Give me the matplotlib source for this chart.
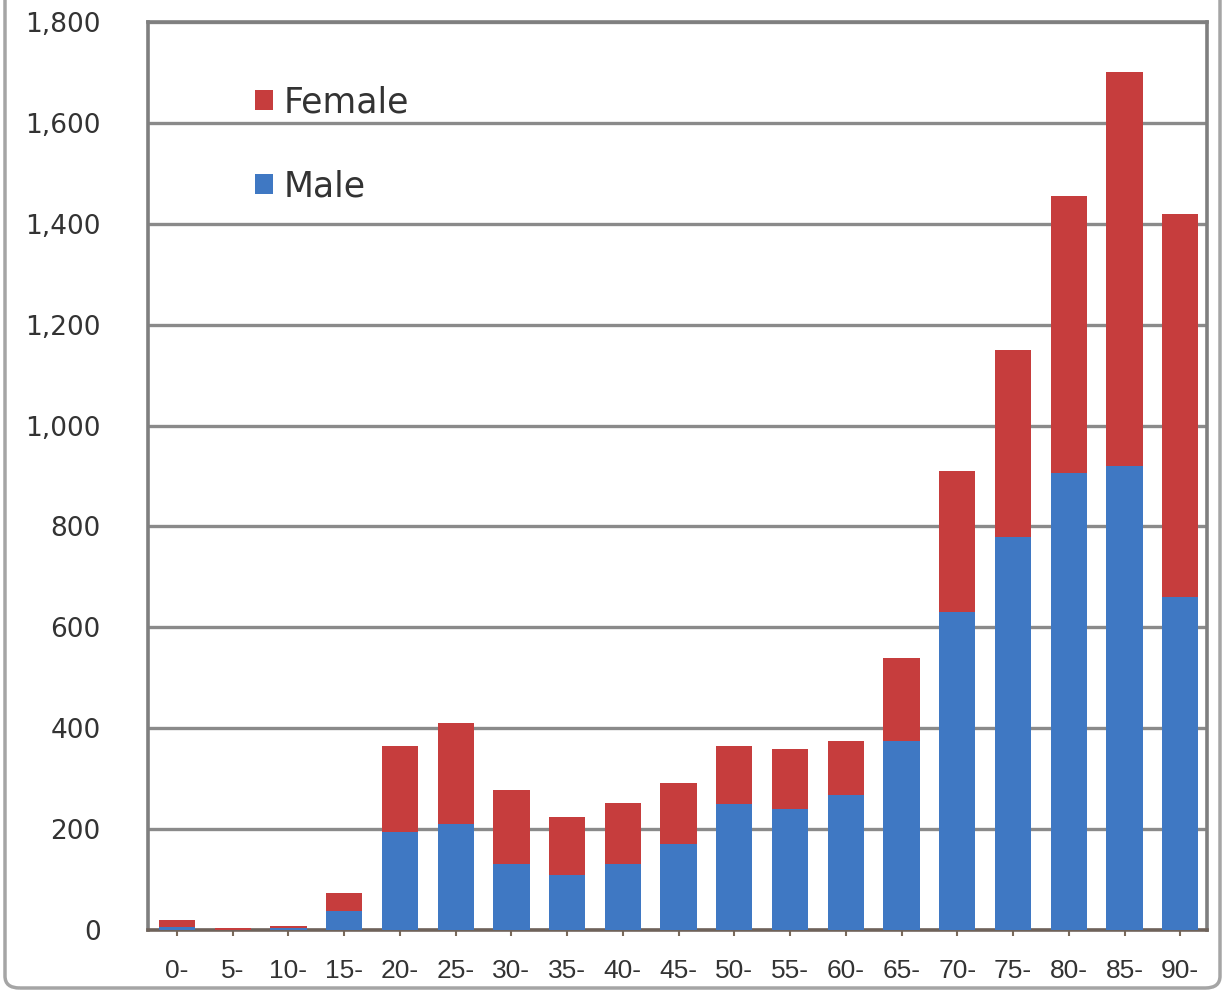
import numpy as np
import matplotlib
matplotlib.use("Agg")
import matplotlib.pyplot as plt
from matplotlib.patches import Patch, FancyBboxPatch
from matplotlib.ticker import FuncFormatter

# age groups (5-year bands)
age_groups = ["0-", "5-", "10-", "15-", "20-", "25-", "30-", "35-", "40-", "45-",
              "50-", "55-", "60-", "65-", "70-", "75-", "80-", "85-", "90-"]
male = [6, 1, 3, 38, 195, 210, 130, 110, 130, 170,
        250, 240, 268, 375, 630, 780, 905, 920, 660]
female = [14, 2, 4, 35, 170, 200, 148, 115, 122, 122,
          115, 118, 107, 165, 280, 370, 550, 780, 760]

blue = "#3f78c3"
red = "#c63d3d"

fig = plt.figure(figsize=(12.25, 9.9), dpi=100, facecolor="white")
ax = fig.add_axes([0.1208, 0.0606, 0.8645, 0.9172])

x = np.arange(len(age_groups))
ax.bar(x, male, width=0.65, color=blue, zorder=3)
ax.bar(x, female, width=0.65, bottom=male, color=red, zorder=3)

ax.set_xlim(-0.52, 18.48)
ax.set_ylim(0, 1800)
ax.set_yticks(np.arange(0, 1801, 200))
ax.yaxis.set_major_formatter(FuncFormatter(lambda v, p: "{:,.0f}".format(v)))
ax.set_xticks(x)
ax.set_xticklabels(age_groups, family="Liberation Sans", fontsize=19, color="#333333")

ax.grid(axis="y", color="#8a8a8a", linewidth=2.4, zorder=0)
ax.tick_params(axis="y", length=0, pad=34, labelsize=19, labelcolor="#333333")
ax.tick_params(axis="x", length=4, width=1.5, color="#7a6a5a", pad=17)

for side in ["top", "left", "right"]:
    ax.spines[side].set_color("#7f7f7f")
    ax.spines[side].set_linewidth(2.6)
ax.spines["bottom"].set_color("#6e625a")
ax.spines["bottom"].set_linewidth(2.6)

handles = [Patch(facecolor=red, edgecolor="none"), Patch(facecolor=blue, edgecolor="none")]
ax.legend(handles, ["Female", "Male"], loc="upper left",
          bbox_to_anchor=(0.072, 0.965), frameon=False, fontsize=25,
          handlelength=0.5, handleheight=0.5, handletextpad=0.3,
          labelspacing=1.45, labelcolor="#333333")

# outer chart-area border
border = FancyBboxPatch((5 / 1225, 2 / 990), 1215 / 1225, 1.2,
                        boxstyle="round,pad=0,rounding_size=0.012",
                        transform=fig.transFigure, fill=False,
                        edgecolor="#a5a5a5", linewidth=2.5, zorder=-1)
fig.patches.append(border)

fig.savefig("out.png", dpi=100, facecolor="white")
